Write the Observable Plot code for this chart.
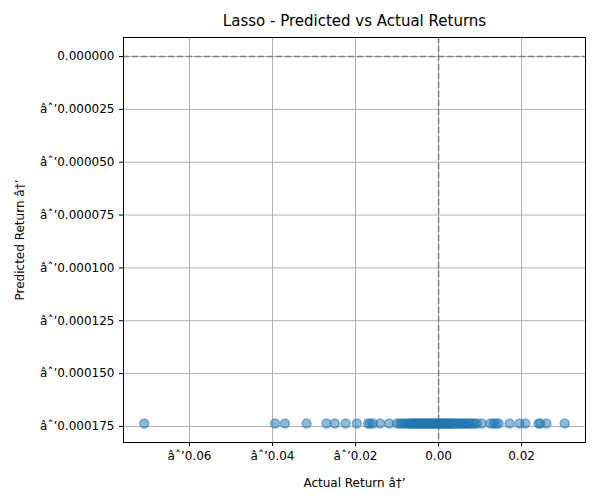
<!DOCTYPE html>
<html><head>
<script src="https://cdn.jsdelivr.net/npm/d3@7"></script>
<script src="https://cdn.jsdelivr.net/npm/@observablehq/plot@0.6"></script>
<style>body{margin:0;background:#fff;font-family:"DejaVu Sans",sans-serif}</style>
</head><body><div id="c"></div>
<script>
const actual = [-0.0709,-0.0394,-0.0370,-0.0318,-0.0270,-0.0250,-0.0224,-0.0197,-0.0170,-0.0165,-0.0158,-0.0141,-0.0119,-0.0100,
-0.0093,-0.0088,-0.0082,-0.0077,-0.0072,-0.0068,-0.0065,-0.0062,-0.0058,-0.0055,-0.0052,-0.0049,-0.0046,-0.0043,-0.0040,-0.0037,-0.0033,-0.0030,-0.0027,-0.0024,-0.0021,-0.0018,-0.0015,-0.0012,-0.0009,-0.0006,-0.0003,0.0000,
0.0003,0.0006,0.0009,0.0012,0.0015,0.0018,0.0021,0.0024,0.0027,0.0030,0.0033,0.0036,0.0040,0.0044,0.0048,0.0052,0.0056,0.0060,0.0064,0.0068,0.0072,0.0077,0.0082,0.0087,0.0092,
0.0104,0.0125,0.0133,0.0139,0.0145,0.0171,0.0195,0.0209,0.0241,0.0245,0.0260,0.0304];
const predicted = actual.map(() => -0.0001736);
const data = actual.map((a,i)=>({a, p: predicted[i]}));
const chart = Plot.plot({
  width:600, height:500, marginLeft:123, marginRight:15, marginTop:37, marginBottom:58,
  style:{fontFamily:"DejaVu Sans", fontSize:"12px", color:"#000"},
  x:{domain:[-0.0759,0.0354], ticks:[-0.06,-0.04,-0.02,0,0.02], tickFormat:d3.format(".2f"), label:"Actual Return", labelAnchor:"center", labelOffset:44, grid:false},
  y:{domain:[-0.0001826,0.0000090], ticks:[0,-0.000025,-0.00005,-0.000075,-0.0001,-0.000125,-0.00015,-0.000175], tickFormat:d3.format(".6f"), label:"Predicted Return", labelAnchor:"center", labelOffset:108},
  marks:[
    Plot.gridX([-0.06,-0.04,-0.02,0,0.02],{stroke:"#b0b0b0", strokeOpacity:1}),
    Plot.gridY([0,-0.000025,-0.00005,-0.000075,-0.0001,-0.000125,-0.00015,-0.000175],{stroke:"#b0b0b0", strokeOpacity:1}),
    Plot.ruleX([0],{stroke:"gray", strokeDasharray:"6,3", strokeWidth:1.5}),
    Plot.ruleY([0],{stroke:"gray", strokeDasharray:"6,3", strokeWidth:1.5}),
    Plot.dot(data,{x:"a", y:"p", r:4.5, fill:"#1f77b4", fillOpacity:0.5, stroke:"#1f77b4", strokeOpacity:0.5}),
    Plot.frame({stroke:"#000"}),
    Plot.axisX({ticks:[-0.06,-0.04,-0.02,0,0.02], tickFormat:d3.format(".2f"), label:"Actual Return", labelAnchor:"center", labelOffset:44, fontSize:12, tickSize:4}),
    Plot.axisY({ticks:[0,-0.000025,-0.00005,-0.000075,-0.0001,-0.000125,-0.00015,-0.000175], tickFormat:d3.format(".6f"), label:"Predicted Return", labelAnchor:"center", labelOffset:108, fontSize:12, tickSize:4}),
    Plot.text(["Lasso - Predicted vs Actual Returns"],{frameAnchor:"top", dy:-22, fontSize:15})
  ]
});
document.getElementById("c").appendChild(chart);
</script></body></html>
